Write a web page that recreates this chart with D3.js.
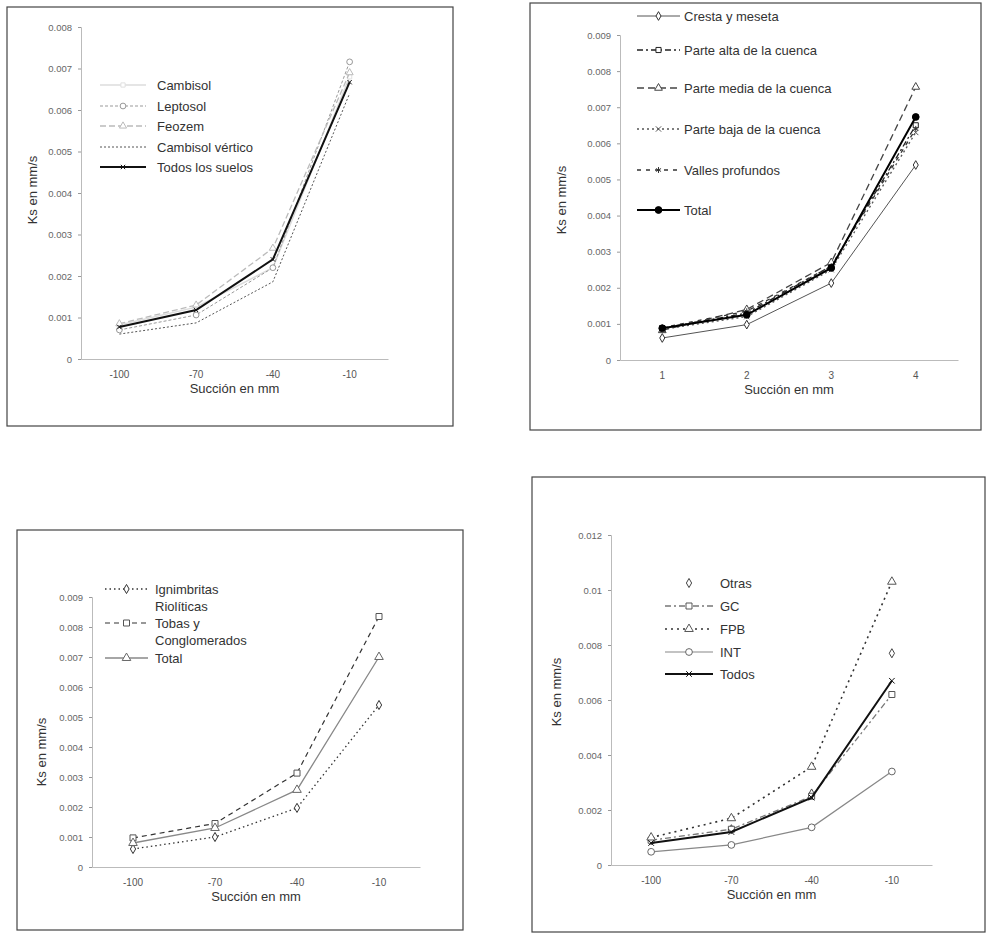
<!DOCTYPE html>
<html>
<head>
<meta charset="utf-8">
<script src="https://cdn.jsdelivr.net/npm/d3@7"></script>
<style>
  body { margin: 0; background: #fff; }
  svg { display: block; font-family: "Liberation Sans", Arial, sans-serif; }
</style>
</head>
<body>
<div id="chart"></div>
<script>
// categories
const suctionCats = ["-100", "-70", "-40", "-10"];
const stageCats = ["1", "2", "3", "4"];

// tick labels for each panel
const ticks9 = [0, 0.001, 0.002, 0.003, 0.004, 0.005, 0.006, 0.007, 0.008, 0.009];
const ticks8 = [0, 0.001, 0.002, 0.003, 0.004, 0.005, 0.006, 0.007, 0.008];
const ticks12 = [0, 0.002, 0.004, 0.006, 0.008, 0.01, 0.012];

// panel 1 - soils
const cambisol = [0.00082, 0.00125, 0.0022, 0.0068];
const leptosol = [0.0007, 0.00106, 0.0022, 0.00716];
const feozem = [0.00085, 0.0013, 0.00267, 0.0069];
const cambisolVertico = [0.0006, 0.00087, 0.00186, 0.0064];
const todosSuelos = [0.00077, 0.00118, 0.0024, 0.00667];

// panel 2 - landscape units
const cresta = [0.00061, 0.00098, 0.00213, 0.0054];
const parteAlta = [0.00088, 0.0013, 0.0026, 0.0065];
const parteMedia = [0.00082, 0.0014, 0.0027, 0.00756];
const parteBaja = [0.00085, 0.0012, 0.0025, 0.0063];
const valles = [0.0009, 0.00135, 0.0026, 0.0064];
const totalCuenca = [0.00088, 0.00125, 0.00255, 0.00673];

// panel 3 - geology
const ignimbritas = [0.0006, 0.001, 0.00197, 0.0054];
const tobas = [0.00097, 0.00145, 0.00313, 0.00835];
const totalGeo = [0.0008, 0.0013, 0.00257, 0.007];

// panel 4 - groups
const otras = [0.0009, 0.0013, 0.0026, 0.0077];
const gc = [0.0009, 0.0013, 0.0025, 0.0062];
const fpb = [0.001, 0.0017, 0.00357, 0.0103];
const intSeries = [0.00048, 0.00073, 0.00137, 0.0034];
const todosGrupos = [0.0008, 0.0012, 0.00245, 0.0067];

const svg = d3.select("#chart").append("svg")
  .attr("width", 989)
  .attr("height", 935);

const fmt = v => v === 0 ? "0" : String(+v.toFixed(3));

function drawPanel(p) {
  const g = svg.append("g");

  // frame
  g.append("rect")
    .attr("x", p.box[0]).attr("y", p.box[1])
    .attr("width", p.box[2] - p.box[0]).attr("height", p.box[3] - p.box[1])
    .attr("fill", "none").attr("stroke", "#444").attr("stroke-width", 1.2);

  const x = d3.scaleBand().domain(p.cats).range([p.x0, p.x1]);
  const y = d3.scaleLinear().domain([0, d3.max(p.ticks)]).range([p.y0, p.yTop]);

  // y axis
  const ya = g.append("g")
    .attr("transform", `translate(${p.x0},0)`)
    .call(d3.axisLeft(y).tickValues(p.ticks).tickFormat(fmt).tickSize(3).tickPadding(6));
  ya.select(".domain").attr("stroke", "#bbb");
  ya.selectAll(".tick line").attr("stroke", "#999");
  ya.selectAll("text").attr("fill", "#666").style("font-size", "9.5px")
    .style("font-family", "Liberation Sans, Arial, sans-serif");

  // x axis
  const xa = g.append("g")
    .attr("transform", `translate(0,${p.y0})`)
    .call(d3.axisBottom(x).tickSize(0).tickPadding(12).tickSizeOuter(0));
  xa.select(".domain").attr("stroke", "#bbb");
  xa.selectAll("text").attr("fill", "#555").style("font-size", "10px")
    .style("font-family", "Liberation Sans, Arial, sans-serif");

  // axis titles
  g.append("text")
    .attr("x", (p.x0 + p.x1) / 2).attr("y", p.y0 + 34)
    .attr("text-anchor", "middle").attr("fill", "#333")
    .style("font-size", "13px").text("Succión en mm");
  g.append("text")
    .attr("transform", `translate(${p.yLabelX},${p.yLabelY}) rotate(-90)`)
    .attr("text-anchor", "middle").attr("fill", "#333")
    .style("font-size", "13px").text("Ks en mm/s");

  const line = d3.line()
    .x((d, i) => x(p.cats[i]) + x.bandwidth() / 2)
    .y(d => y(d));

  p.series.forEach(s => {
    if (s.line !== false) {
      g.append("path")
        .datum(s.values)
        .attr("d", line)
        .attr("fill", "none")
        .attr("stroke", s.color)
        .attr("stroke-width", s.width || 1)
        .attr("stroke-dasharray", s.dash || null);
    }
    if (s.symbol) {
      g.selectAll(null)
        .data(s.values)
        .enter()
        .append("path")
        .attr("transform", (d, i) => `translate(${x(p.cats[i]) + x.bandwidth() / 2},${y(d)})`)
        .attr("d", d3.symbol().type(s.symbol).size(s.size || 30))
        .attr("fill", s.fill || "#fff")
        .attr("stroke", s.mcolor || s.color)
        .attr("stroke-width", 1);
    }
  });

  // legend
  p.series.forEach((s, i) => {
    const ly = p.legY[i];
    if (s.line !== false) {
      g.append("line")
        .attr("x1", p.legX[0]).attr("x2", p.legX[1])
        .attr("y1", ly).attr("y2", ly)
        .attr("stroke", s.color)
        .attr("stroke-width", s.width || 1)
        .attr("stroke-dasharray", s.dash || null);
    }
    if (s.symbol) {
      g.append("path")
        .attr("transform", `translate(${(p.legX[0] + p.legX[1]) / 2},${ly})`)
        .attr("d", d3.symbol().type(s.symbol).size(s.size || 30))
        .attr("fill", s.fill || "#fff")
        .attr("stroke", s.mcolor || s.color)
        .attr("stroke-width", 1);
    }
    const lines = s.label.split("\n");
    lines.forEach((t, k) => {
      g.append("text")
        .attr("x", p.legX[2]).attr("y", ly + 4.5 + k * 17)
        .attr("fill", "#333").style("font-size", "13px")
        .text(t);
    });
  });
}

drawPanel({
  box: [7, 7, 453, 426],
  cats: suctionCats, ticks: ticks8,
  x0: 81, x1: 388, y0: 359, yTop: 27,
  yLabelX: 37, yLabelY: 190,
  legX: [100, 146, 157], legY: [85, 106, 126, 147, 167],
  series: [
    { label: "Cambisol", values: cambisol, color: "#dcdcdc", width: 1.5, symbol: d3.symbolSquare, size: 18, mcolor: "#e0e0e0" },
    { label: "Leptosol", values: leptosol, color: "#999", dash: "3,2", symbol: d3.symbolCircle, size: 26 },
    { label: "Feozem", values: feozem, color: "#bbb", dash: "6,3", width: 1.3, symbol: d3.symbolTriangle, size: 22, mcolor: "#bbb" },
    { label: "Cambisol vértico", values: cambisolVertico, color: "#555", dash: "2,2" },
    { label: "Todos los suelos", values: todosSuelos, color: "#111", width: 2, symbol: d3.symbolTimes, size: 14 }
  ]
});

drawPanel({
  box: [530, 3, 981, 430],
  cats: stageCats, ticks: ticks9,
  x0: 620, x1: 958, y0: 360, yTop: 35,
  yLabelX: 566, yLabelY: 200,
  legX: [637, 680, 684], legY: [16, 50, 88, 129, 170, 210],
  series: [
    { label: "Cresta y meseta", values: cresta, color: "#555", symbol: d3.symbolDiamond, size: 22, mcolor: "#333" },
    { label: "Parte alta de la cuenca", values: parteAlta, color: "#222", dash: "6,3,2,3", width: 1.3, symbol: d3.symbolSquare, size: 26 },
    { label: "Parte media de la cuenca", values: parteMedia, color: "#444", dash: "7,4", width: 1.3, symbol: d3.symbolTriangle, size: 26 },
    { label: "Parte baja de la cuenca", values: parteBaja, color: "#555", dash: "2,3", width: 1.3, symbol: d3.symbolTimes, size: 20 },
    { label: "Valles profundos", values: valles, color: "#333", dash: "4,5", width: 1.3, symbol: d3.symbolAsterisk, size: 24 },
    { label: "Total", values: totalCuenca, color: "#000", width: 2, symbol: d3.symbolCircle, size: 36, fill: "#000" }
  ]
});

drawPanel({
  box: [17, 530, 463, 930],
  cats: suctionCats, ticks: ticks9,
  x0: 92, x1: 420, y0: 867, yTop: 597,
  yLabelX: 46, yLabelY: 752,
  legX: [105, 148, 155], legY: [589, 623, 658],
  series: [
    { label: "Ignimbritas\nRiolíticas", values: ignimbritas, color: "#333", dash: "1.5,3", width: 1.3, symbol: d3.symbolDiamond, size: 24 },
    { label: "Tobas y\nConglomerados", values: tobas, color: "#333", dash: "5,4", width: 1.2, symbol: d3.symbolSquare, size: 36, mcolor: "#555" },
    { label: "Total", values: totalGeo, color: "#888", width: 1.3, symbol: d3.symbolTriangle, size: 32, mcolor: "#666" }
  ]
});

drawPanel({
  box: [532, 477, 985, 932],
  cats: suctionCats, ticks: ticks12,
  x0: 611, x1: 932, y0: 865, yTop: 535,
  yLabelX: 561, yLabelY: 692,
  legX: [665, 713, 720], legY: [583, 606, 629, 652, 674],
  series: [
    { label: "Otras", values: otras, color: "#444", line: false, symbol: d3.symbolDiamond, size: 24 },
    { label: "GC", values: gc, color: "#777", dash: "6,3,2,3", width: 1.3, symbol: d3.symbolSquare, size: 36, mcolor: "#555" },
    { label: "FPB", values: fpb, color: "#333", dash: "2,4", width: 1.6, symbol: d3.symbolTriangle, size: 32, mcolor: "#555" },
    { label: "INT", values: intSeries, color: "#888", width: 1.2, symbol: d3.symbolCircle, size: 36, mcolor: "#666" },
    { label: "Todos", values: todosGrupos, color: "#111", width: 2, symbol: d3.symbolTimes, size: 22 }
  ]
});
</script>
</body>
</html>
